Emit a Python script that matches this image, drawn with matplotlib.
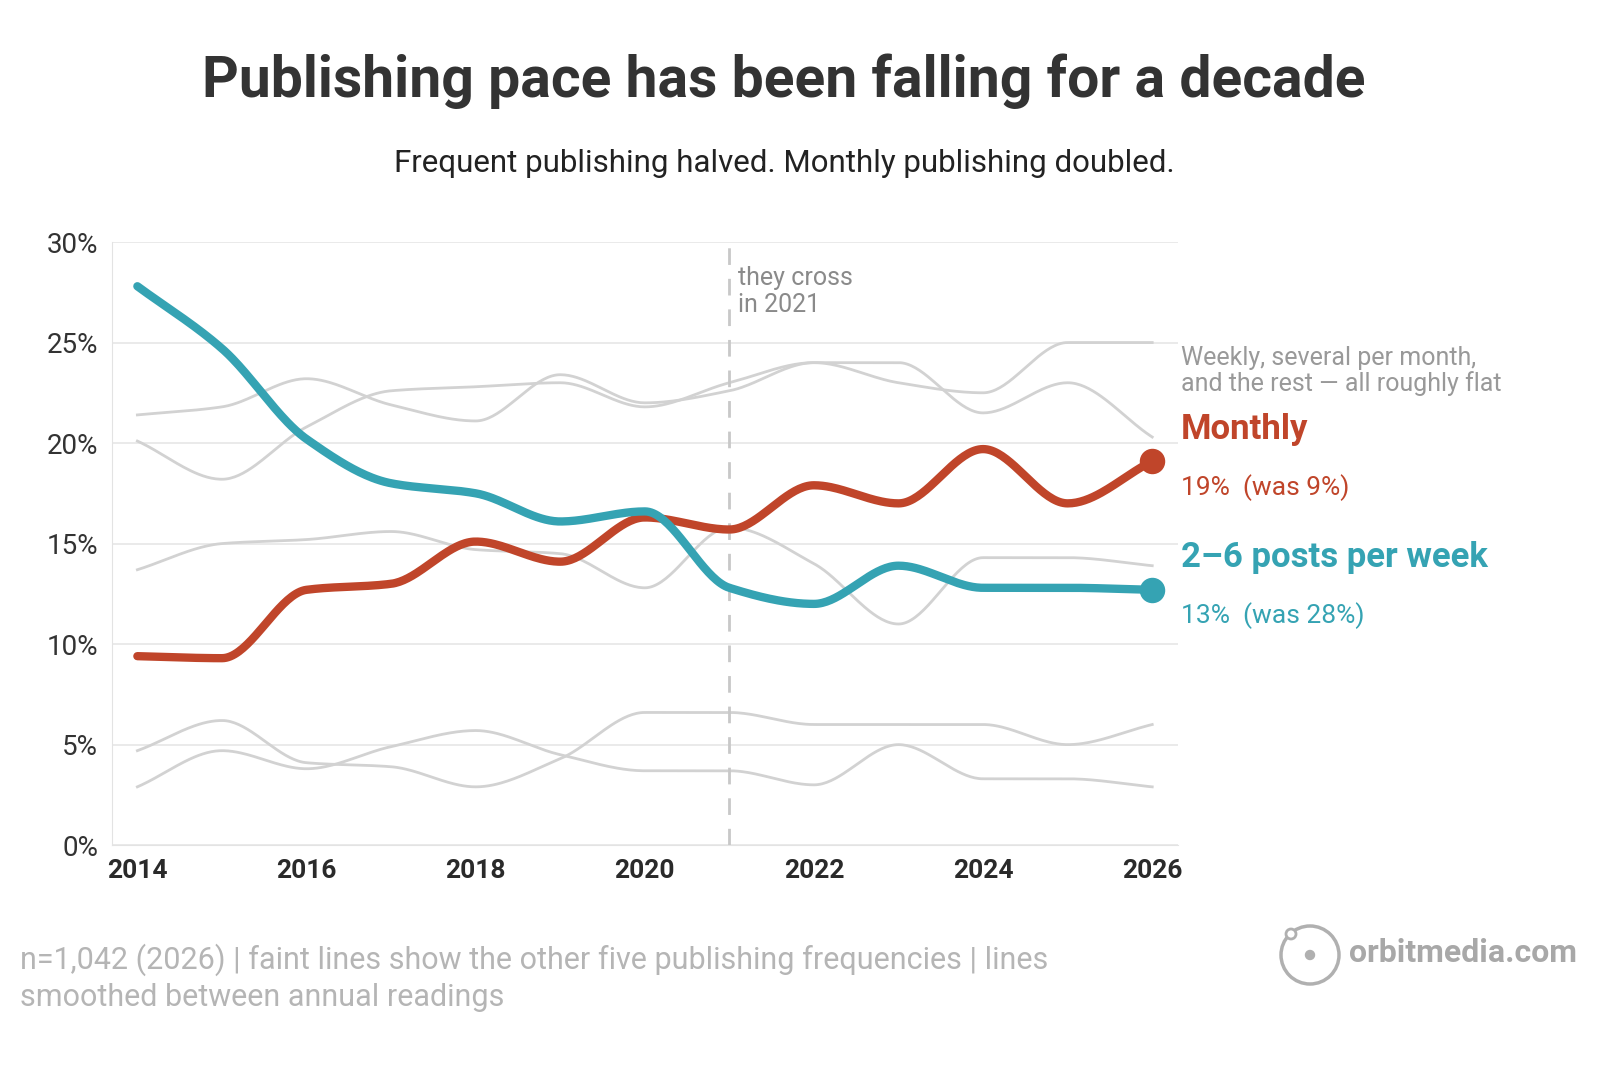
import numpy as np
import matplotlib
matplotlib.use("Agg")
import matplotlib.pyplot as plt
from matplotlib.patches import Ellipse

plt.rcParams['font.family'] = ['Roboto', 'DejaVu Sans']

years = list(range(2014, 2027))
weekly_2_6 = [27.8, 24.7, 20.2, 18.0, 17.5, 16.1, 16.6, 12.8, 12.0, 13.9, 12.8, 12.8, 12.7]
monthly = [9.4, 9.3, 12.7, 13.0, 15.1, 14.1, 16.3, 15.7, 17.9, 17.0, 19.7, 17.0, 19.1]
others = [
    [21.4, 21.8, 23.2, 21.9, 21.1, 23.4, 22.0, 22.6, 24.0, 24.0, 21.5, 23.0, 20.3],
    [20.1, 18.2, 20.8, 22.6, 22.8, 23.0, 21.8, 23.0, 24.0, 23.0, 22.5, 25.0, 25.0],
    [13.7, 15.0, 15.2, 15.6, 14.7, 14.5, 12.8, 15.8, 14.0, 11.0, 14.3, 14.3, 13.9],
    [4.7, 6.2, 4.1, 3.9, 2.9, 4.3, 6.6, 6.6, 6.0, 6.0, 6.0, 5.0, 6.0],
    [2.9, 4.7, 3.8, 4.9, 5.7, 4.5, 3.7, 3.7, 3.0, 5.0, 3.3, 3.3, 2.9],
]

RED = '#c0452a'
TEAL = '#35a3b3'
GREY = '#d2d2d2'


def monotone(x, y, n=40):
    # monotone cubic (Fritsch-Carlson), like d3 curveMonotoneX
    x = np.asarray(x, float); y = np.asarray(y, float)
    h = np.diff(x); d = np.diff(y) / h
    m = np.zeros_like(y)
    m[0], m[-1] = d[0], d[-1]
    for i in range(1, len(y) - 1):
        if d[i - 1] * d[i] > 0:
            m[i] = 2 / (1 / d[i - 1] + 1 / d[i])
    xs, ys = [], []
    for i in range(len(h)):
        t = np.linspace(0, 1, n, endpoint=False)
        h00 = 2 * t**3 - 3 * t**2 + 1; h10 = t**3 - 2 * t**2 + t
        h01 = -2 * t**3 + 3 * t**2; h11 = t**3 - t**2
        xs.append(x[i] + t * h[i])
        ys.append(h00 * y[i] + h10 * h[i] * m[i] + h01 * y[i + 1] + h11 * h[i] * m[i + 1])
    xs.append([x[-1]]); ys.append([y[-1]])
    return np.concatenate(xs), np.concatenate(ys)


fig = plt.figure(figsize=(16, 10.78), dpi=100)
ax = fig.add_axes([0.07, 0.216, 0.666, 0.5595])

for s in others:
    ax.plot(*monotone(years, s), color=GREY, lw=2, zorder=2)
ax.plot(*monotone(years, monthly), color=RED, lw=6, zorder=4, solid_capstyle='round')
ax.plot(*monotone(years, weekly_2_6), color=TEAL, lw=6, zorder=4, solid_capstyle='round')
ax.scatter([years[-1]], [monthly[-1]], s=300, color=RED, zorder=5)
ax.scatter([years[-1]], [weekly_2_6[-1]], s=300, color=TEAL, zorder=5)

ax.axvline(2021, color='#c8c8c8', lw=2, ls=(0, (6, 5)), zorder=3)
ax.text(2021.1, 28.8, 'they cross\nin 2021', color='#8a8a8a', fontsize=18, va='top', linespacing=1.15)

ax.set_xlim(2013.7, 2026.3)
ax.set_ylim(0, 30)
ax.set_yticks(range(0, 31, 5))
ax.set_yticklabels([f'{v}%' for v in range(0, 31, 5)], fontsize=20, color='#333333')
ax.set_xticks(range(2014, 2027, 2))
ax.set_xticklabels([str(v) for v in range(2014, 2027, 2)], fontsize=19, fontweight='bold', color='#2a2a2a')
ax.tick_params(length=0, pad=10)
ax.grid(axis='y', color='#e6e6e6', lw=1.2)
ax.set_axisbelow(True)
for k in ['top', 'right']:
    ax.spines[k].set_visible(False)
for k in ['left', 'bottom']:
    ax.spines[k].set_color('#e3e3e3')

tx = 1181 / 1600
fig.text(0.49, 0.925, 'Publishing pace has been falling for a decade', ha='center', va='center',
         fontsize=41, fontweight='bold', color='#333333')
fig.text(0.49, 0.848, 'Frequent publishing halved. Monthly publishing doubled.', ha='center', va='center',
         fontsize=22.5, color='#222222')
fig.text(tx, 1 - 371 / 1078, 'Weekly, several per month,\nand the rest — all roughly flat', va='center',
         fontsize=18, color='#999999', linespacing=1.1)
fig.text(tx, 1 - 430 / 1078, 'Monthly', va='center', fontsize=25, fontweight='bold', color=RED)
fig.text(tx, 1 - 488 / 1078, '19%  (was 9%)', va='center', fontsize=19, color=RED)
fig.text(tx, 1 - 558 / 1078, '2–6 posts per week', va='center', fontsize=25, fontweight='bold', color=TEAL)
fig.text(tx, 1 - 616 / 1078, '13%  (was 28%)', va='center', fontsize=19, color=TEAL)

fig.text(20 / 1600, 1 - 978 / 1078,
         'n=1,042 (2026) | faint lines show the other five publishing frequencies | lines\nsmoothed between annual readings',
         va='center', fontsize=22, color='#b5b5b5', linespacing=1.3)
cx, cy = 1310 / 1600, 1 - 955 / 1078
fig.add_artist(Ellipse((cx, cy), 58 / 1600, 58 / 1078, transform=fig.transFigure,
                       fill=False, ec='#b0b0b0', lw=2.5))
fig.add_artist(Ellipse((cx, cy), 9 / 1600, 9 / 1078, transform=fig.transFigure, color='#b0b0b0'))
fig.add_artist(Ellipse((1291 / 1600, 1 - 934 / 1078), 10 / 1600, 10 / 1078, transform=fig.transFigure,
                       fc='white', ec='#b0b0b0', lw=2))
fig.text(1349 / 1600, 1 - 953 / 1078, 'orbitmedia.com', va='center', fontsize=23, fontweight='bold', color='#a8a8a8')

fig.savefig('out.png', dpi=100)
